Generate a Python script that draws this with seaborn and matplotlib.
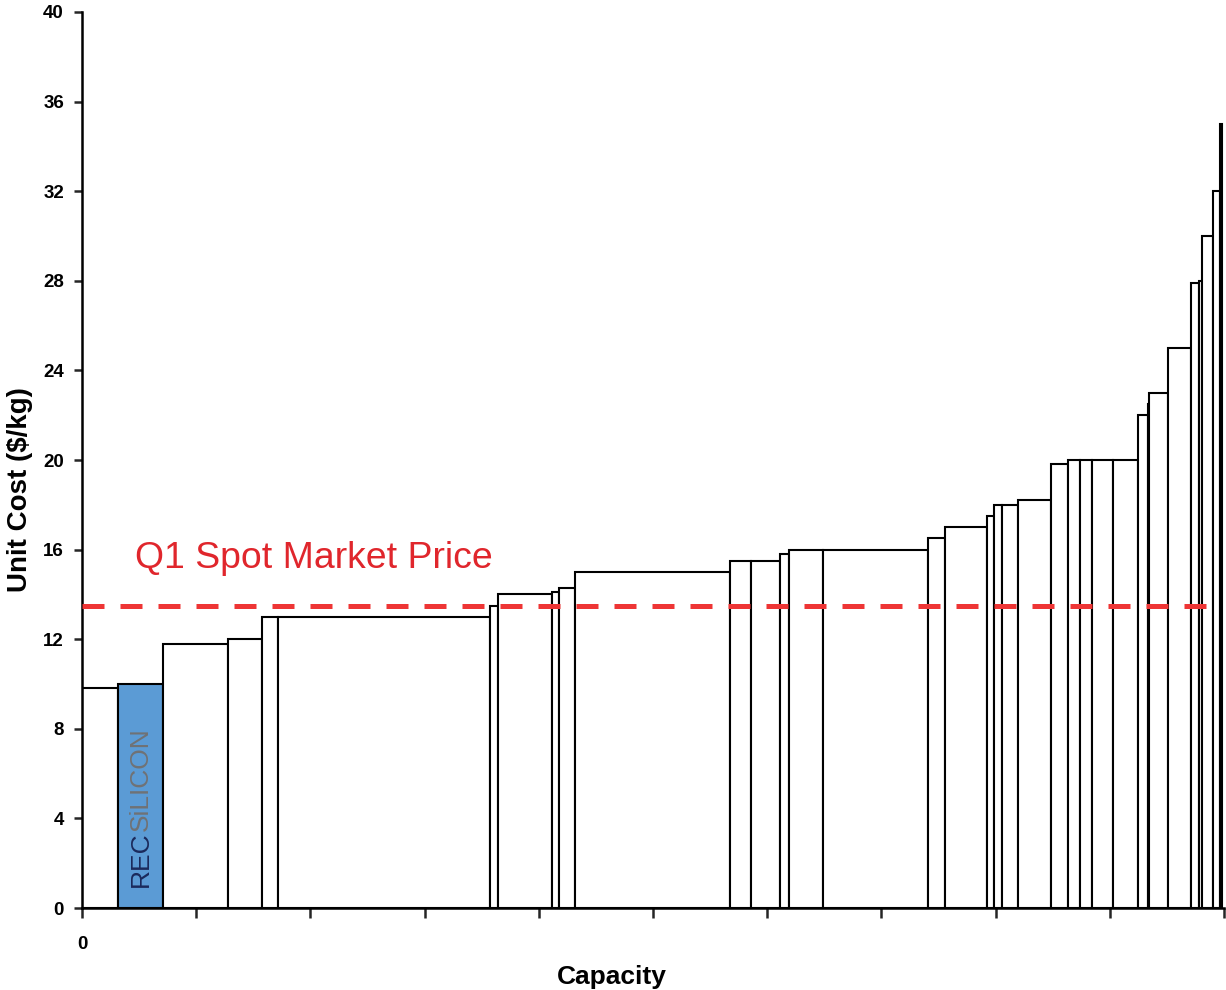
import numpy as np
import pandas as pd
import matplotlib
matplotlib.use("Agg")
import matplotlib.pyplot as plt
import seaborn as sns
from matplotlib import font_manager

# Capacidade de cada produtor (largura) e custo unitário ($/kg), em ordem de custo
capacity = [3.15, 3.94, 5.69, 2.98, 1.40, 18.56, 0.70, 4.73, 0.61, 1.40,
            13.57, 1.84, 2.54, 0.79, 2.98, 9.19, 1.49, 3.68, 0.61, 0.70,
            1.40, 2.89, 1.49, 1.05, 1.05, 1.84, 2.19, 0.88, 0.13, 1.66,
            2.01, 0.70, 0.26, 0.96, 0.61, 0.18]
unit_cost = [9.8, 10.0, 11.8, 12.0, 13.0, 13.0, 13.5, 14.0, 14.1, 14.3,
             15.0, 15.5, 15.5, 15.8, 16.0, 16.0, 16.5, 17.0, 17.5, 18.0,
             18.0, 18.2, 19.8, 20.0, 20.0, 20.0, 20.0, 22.0, 22.5, 23.0,
             25.0, 27.9, 28.0, 30.0, 32.0, 35.0]
rec_index = 1          # barra da REC Silicon
spot_price = 13.5
spot_label = "Q1 Spot Market Price"
x_ticks = list(range(0, 101, 10))
x_ticklabels = ["0"] + [""] * 10
y_ticks = list(range(0, 41, 4))

sns.set_theme(style="white")
plt.rcParams["font.family"] = ["Liberation Sans", "DejaVu Sans"]

names = {f.name for f in font_manager.fontManager.ttflist}
narrow = "Liberation Sans Narrow" if "Liberation Sans Narrow" in names else "Liberation Sans"
logo_size = 23 if narrow == "Liberation Sans Narrow" else 19

edges = np.concatenate([[0], np.cumsum(capacity)])
df = pd.DataFrame({
    "centro": (edges[:-1] + edges[1:]) / 2,
    "custo": unit_cost,
})

fig = plt.figure(figsize=(12.26, 9.9), dpi=100)
ax = fig.add_axes([0.0669, 0.0828, 0.9315, 0.9051])

sns.histplot(data=df, x="centro", weights="custo", bins=list(edges),
             stat="count", color="white", edgecolor="black", linewidth=1.5,
             alpha=1, ax=ax)
ax.patches[rec_index].set_facecolor("#5B9BD5")

# linha do preço spot
ax.axhline(spot_price, xmin=0, xmax=0.985, color="#EE3535", linewidth=3.6,
           linestyle=(0, (4.4, 3.2)), zorder=5)
ax.text(4.64, 15.2, spot_label, color="#E0262C", fontsize=26.9,
        va="baseline", ha="left", zorder=6)

# logo REC Silicon dentro da barra
t1 = ax.text(df["centro"][rec_index], 0.95, "REC", rotation=90, ha="center",
             va="bottom", color="#1B2A5C", fontsize=logo_size, family=narrow,
             zorder=6)
ax.annotate("SiLICON", xy=(0.5, 1.0), xycoords=t1, rotation=90,
            ha="center", va="bottom", color="#707275", fontsize=logo_size,
            family=narrow, zorder=6)

ax.set_xlim(0, 100)
ax.set_ylim(0, 40)
ax.set_xticks(x_ticks)
ax.set_xticklabels(x_ticklabels)
ax.set_yticks(y_ticks)

for s in ["top", "right"]:
    ax.spines[s].set_visible(False)
for s in ["left", "bottom"]:
    ax.spines[s].set_linewidth(1.8)
    ax.spines[s].set_color("black")

ax.tick_params(axis="y", direction="out", length=6, width=1.8, pad=7,
               labelsize=13.5, left=True, labelcolor="black")
ax.tick_params(axis="x", direction="out", length=7, width=1.8, pad=13,
               labelsize=13.5, bottom=True, labelcolor="black")
for lab in ax.get_xticklabels() + ax.get_yticklabels():
    lab.set_fontweight("bold")

ax.set_xlabel("Capacity", fontsize=19, fontweight="bold", color="black")
ax.set_ylabel("Unit Cost ($/kg)", fontsize=20, fontweight="bold", color="black")
ax.xaxis.set_label_coords(0.464, -0.064)
ax.yaxis.set_label_coords(-0.043, 0.4665)
ax.grid(False)

fig.savefig("out.png", dpi=100)
